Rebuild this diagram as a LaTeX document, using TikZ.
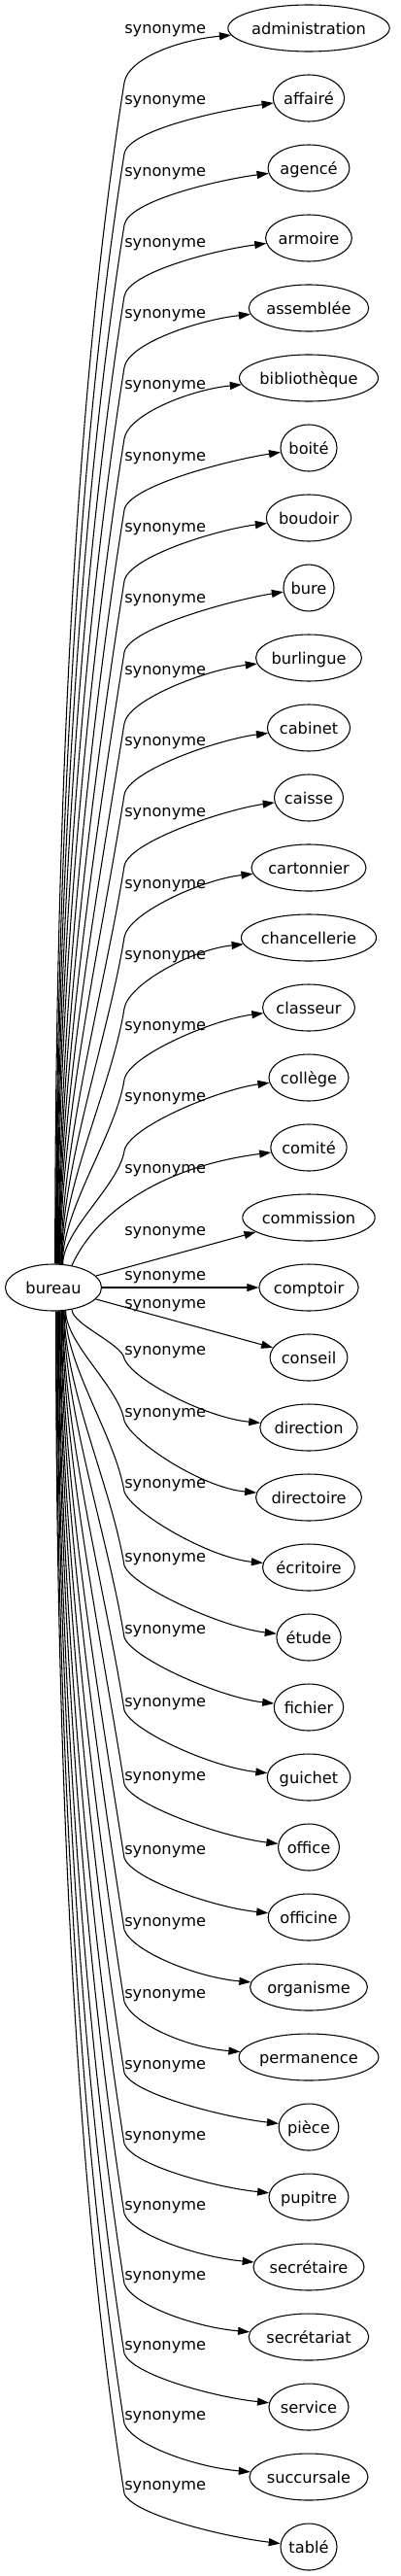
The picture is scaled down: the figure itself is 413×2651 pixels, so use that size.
\documentclass[tikz,border=0pt]{standalone}
\usepackage{fontspec}
\setmainfont{DejaVu Sans}
\usetikzlibrary{shapes.geometric,arrows.meta,calc}
\newcommand\gfont{\fontsize{12.15pt}{14pt}\selectfont}
\newlength\wordw
\newcommand\tgtnode[3]{%
  \settowidth\wordw{\gfont #3}%
  \pgfmathsetlengthmacro\ew{1.25*\wordw+22.5pt}%
  \node[tgt, minimum width=\ew] (#1) at (318,{29+72*#2}) {#3};}
\begin{document}
\begin{tikzpicture}[x=0.75pt,y=-0.75pt,
  tgt/.style={draw, ellipse, inner sep=0pt, minimum height=36pt, text height=9.6pt, text depth=0pt, line width=0.8pt, font=\gfont},
  lbl/.style={anchor=base west, inner sep=0pt, font=\gfont},
  edge/.style={line width=0.8pt, -{Triangle[length=9pt,width=6pt]}}]
\useasboundingbox (0,0) rectangle (413,2651);
\node[tgt, minimum width=74.25pt] (bureau) at (55,1325) {bureau};
\tgtnode{n0}{0}{administration}
\tgtnode{n1}{1}{affairé}
\tgtnode{n2}{2}{agencé}
\tgtnode{n3}{3}{armoire}
\tgtnode{n4}{4}{assemblée}
\tgtnode{n5}{5}{bibliothèque}
\tgtnode{n6}{6}{boité}
\tgtnode{n7}{7}{boudoir}
\tgtnode{n8}{8}{bure}
\tgtnode{n9}{9}{burlingue}
\tgtnode{n10}{10}{cabinet}
\tgtnode{n11}{11}{caisse}
\tgtnode{n12}{12}{cartonnier}
\tgtnode{n13}{13}{chancellerie}
\tgtnode{n14}{14}{classeur}
\tgtnode{n15}{15}{collège}
\tgtnode{n16}{16}{comité}
\tgtnode{n17}{17}{commission}
\tgtnode{n18}{18}{comptoir}
\tgtnode{n19}{19}{conseil}
\tgtnode{n20}{20}{direction}
\tgtnode{n21}{21}{directoire}
\tgtnode{n22}{22}{écritoire}
\tgtnode{n23}{23}{étude}
\tgtnode{n24}{24}{fichier}
\tgtnode{n25}{25}{guichet}
\tgtnode{n26}{26}{office}
\tgtnode{n27}{27}{officine}
\tgtnode{n28}{28}{organisme}
\tgtnode{n29}{29}{permanence}
\tgtnode{n30}{30}{pièce}
\tgtnode{n31}{31}{pupitre}
\tgtnode{n32}{32}{secrétaire}
\tgtnode{n33}{33}{secrétariat}
\tgtnode{n34}{34}{service}
\tgtnode{n35}{35}{succursale}
\tgtnode{n36}{36}{tablé}
% labels
\foreach \i in {0,...,16} {
  \pgfmathsetmacro\L{30+73.3*\i}
  \node[lbl] (l\i) at (128,\L+4.4) {synonyme};
}
\foreach \i/\L in {17/1267,18/1313,19/1342,20/1390,21/1454,22/1527,23/1603,24/1677,25/1752,26/1828,27/1904,28/1978,29/2052,30/2125,31/2198,32/2270,33/2342,34/2414,35/2486,36/2558} {
  \node[lbl] (l\i) at (128,\L+4.4) {synonyme};
}
% upper edges
\foreach \i in {0,...,15} {
  \pgfmathsetmacro\b{85+73.3*\i}
  \pgfmathsetmacro\D{1302-\b}
  \pgfmathtruncatemacro\th{86-1.2*\i}
  \draw[edge] (bureau.\th) .. controls ($(bureau.\th)+(0,-0.3*\D)$) and (128-0.048*\D,\b+0.3*\D) .. (128,\b) .. controls (132,\b-25) and ($(n\i.west)+(-50,12)$) .. (n\i);
}
% middle edges
\draw[edge] (bureau.50) .. controls (100,1245) and (170,1200) .. (n16);
\draw[edge] (bureau) -- (n17);
\draw[edge] (bureau) -- (n18);
\draw[edge] (bureau) -- (n19);
% lower edges
\foreach \i/\L/\th in {20/1390/310,21/1454/298,22/1527/297,23/1603/295,24/1677/294,25/1752/292,26/1828/291,27/1904/289,28/1978/288,29/2052/286,30/2125/285,31/2198/283,32/2270/282,33/2342/280,34/2414/279,35/2486/277,36/2558/276} {
  \pgfmathsetmacro\b{\L+8}
  \pgfmathsetmacro\D{\b-1348}
  \draw[edge] (bureau.\th) .. controls ($(bureau.\th)+(0,0.3*\D)$) and (128-0.048*\D,\b-0.3*\D) .. (128,\b) .. controls (136,\b+22) and ($(n\i.west)+(-55,-10)$) .. (n\i);
}
\end{tikzpicture}
\end{document}
